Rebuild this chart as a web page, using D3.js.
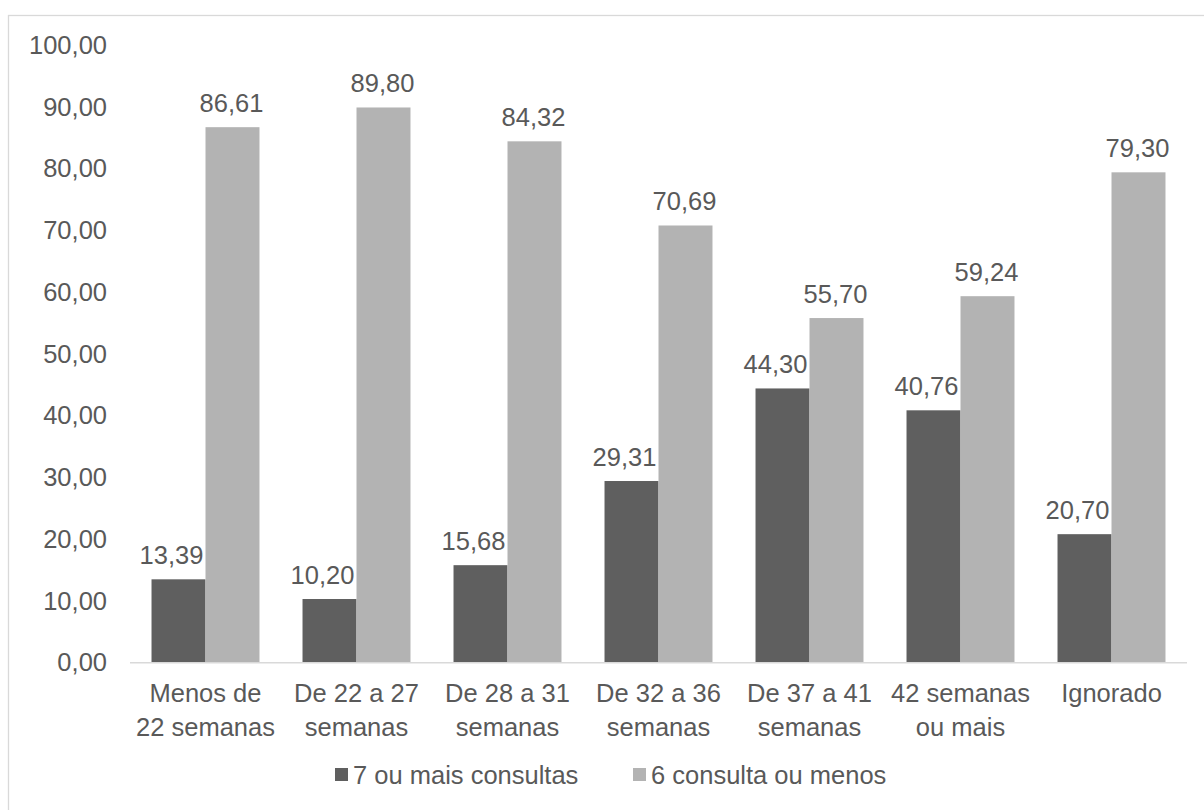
<!DOCTYPE html>
<html>
<head>
<meta charset="utf-8">
<script src="https://cdn.jsdelivr.net/npm/d3@7"></script>
<style>
  html, body { margin: 0; padding: 0; background: #fff; }
  svg { display: block; font-family: "Liberation Sans", Arial, sans-serif; }
</style>
</head>
<body>
<svg id="chart" width="1204" height="810"></svg>
<script>
// Gestational age groups (two-line axis labels)
const categories = [
  ["Menos de", "22 semanas"],
  ["De 22 a 27", "semanas"],
  ["De 28 a 31", "semanas"],
  ["De 32 a 36", "semanas"],
  ["De 37 a 41", "semanas"],
  ["42 semanas", "ou mais"],
  ["Ignorado"]
];
const seriesNames = ["7 ou mais consultas", "6 consulta ou menos"];
const seteOuMais = [13.39, 10.20, 15.68, 29.31, 44.30, 40.76, 20.70];
const seisOuMenos = [86.61, 89.80, 84.32, 70.69, 55.70, 59.24, 79.30];
const yTicks = [0, 10, 20, 30, 40, 50, 60, 70, 80, 90, 100];

const colors = ["#5f5f5f", "#b3b3b3"];
const textColor = "#595959";
const fmt = v => v.toFixed(2).replace(".", ",");

const svg = d3.select("#chart");

// outer frame
svg.append("rect")
  .attr("x", 8.5).attr("y", 15.5)
  .attr("width", 1230).attr("height", 830)
  .attr("fill", "none").attr("stroke", "#d9d9d9").attr("stroke-width", 1.3);

const plotLeft = 130, plotRight = 1187, plotTop = 44.5, plotBottom = 662;

const x0 = d3.scaleBand()
  .domain(d3.range(categories.length))
  .range([plotLeft, plotRight])
  .paddingInner(0.285)
  .paddingOuter(0.1425);

const x1 = d3.scaleBand()
  .domain([0, 1])
  .range([0, x0.bandwidth()]);

const y = d3.scaleLinear().domain([0, 100]).range([plotBottom, plotTop]);

// y axis labels (no axis line, no gridlines)
const yAxis = d3.axisLeft(y).tickValues(yTicks).tickFormat(fmt).tickSize(0).tickPadding(0);
const yg = svg.append("g").attr("transform", `translate(107,0)`).call(yAxis);
yg.select(".domain").remove();
yg.selectAll("text")
  .attr("fill", textColor)
  .attr("font-size", "25.5px")
  .attr("font-family", "Liberation Sans, Arial, sans-serif")
  .attr("dy", "0.35em");

// bars
const data = categories.map((c, i) => [seteOuMais[i], seisOuMenos[i]]);
const groups = svg.append("g").selectAll("g")
  .data(data).join("g")
  .attr("transform", (d, i) => `translate(${x0(i)},0)`);

groups.selectAll("rect")
  .data(d => d.map((v, k) => ({ v, k })))
  .join("rect")
  .attr("x", d => x1(d.k))
  .attr("y", d => y(d.v))
  .attr("width", x1.bandwidth())
  .attr("height", d => y(0) - y(d.v))
  .attr("fill", d => colors[d.k]);

// value labels; the first series' labels lean left so they clear the taller neighbour
groups.selectAll("text")
  .data(d => d.map((v, k) => ({ v, k })))
  .join("text")
  .attr("x", d => x1(d.k) + x1.bandwidth() / 2 - (d.k === 0 ? 7 : 1))
  .attr("y", d => y(d.v) - 15)
  .attr("text-anchor", "middle")
  .attr("fill", textColor)
  .attr("font-size", "25.5px")
  .text(d => fmt(d.v));

// x axis line
svg.append("line")
  .attr("x1", plotLeft).attr("x2", plotRight)
  .attr("y1", plotBottom + 0.7).attr("y2", plotBottom + 0.7)
  .attr("stroke", "#d9d9d9").attr("stroke-width", 1.5);

// category labels
const xl = svg.append("g").selectAll("text")
  .data(categories).join("text")
  .attr("x", (d, i) => x0(i) + x0.bandwidth() / 2)
  .attr("y", 702)
  .attr("text-anchor", "middle")
  .attr("fill", textColor)
  .attr("font-size", "25.5px");
xl.selectAll("tspan")
  .data(d => d).join("tspan")
  .attr("x", function () { return d3.select(this.parentNode).attr("x"); })
  .attr("dy", (d, j) => j === 0 ? 0 : 34)
  .text(d => d);

// legend
const legendX = [335, 633];
const lg = svg.append("g").selectAll("g")
  .data(seriesNames).join("g")
  .attr("transform", (d, i) => `translate(${legendX[i]},0)`);
lg.append("rect")
  .attr("x", 0).attr("y", 768)
  .attr("width", 13).attr("height", 13)
  .attr("fill", (d, i) => colors[i]);
lg.append("text")
  .attr("x", 18).attr("y", 784)
  .attr("fill", textColor)
  .attr("font-size", "25.5px")
  .text(d => d);
</script>
</body>
</html>
